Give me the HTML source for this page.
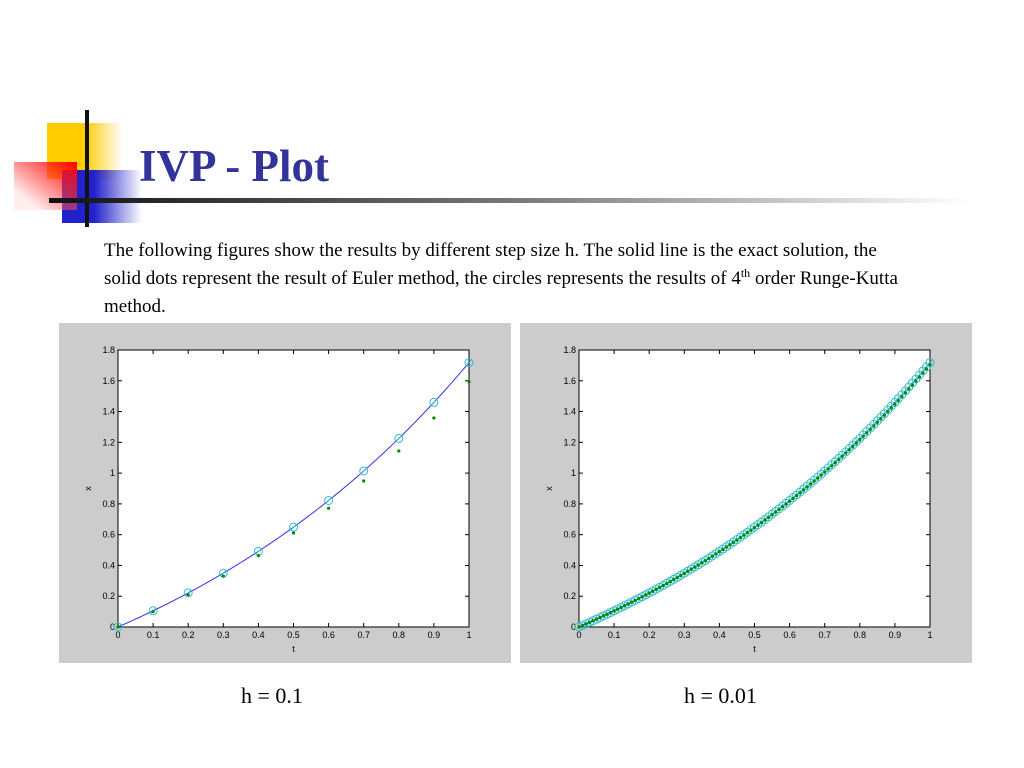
<!DOCTYPE html>
<html><head><meta charset="utf-8"><style>
body{margin:0;width:1024px;height:768px;background:#fff;position:relative;overflow:hidden;font-family:"Liberation Serif",serif}
.abs{position:absolute}
sup{line-height:0;vertical-align:0;position:relative;top:-7px;font-size:12px}
</style></head><body>
<div class="abs" style="left:47px;top:123px;width:75px;height:56px;background:linear-gradient(to right,#ffcc00 50%,rgba(255,204,0,0))"></div>
<div class="abs" style="left:62px;top:170px;width:80px;height:53px;background:linear-gradient(to right,#2222cc 40%,rgba(34,34,204,0))"></div>
<div class="abs" style="left:14px;top:162px;width:63px;height:48px;background:linear-gradient(to bottom left,#ff0000,rgba(255,200,200,0.3) 80%)"></div>
<div class="abs" style="left:85px;top:110px;width:4px;height:117px;background:#111"></div>
<div class="abs" style="left:49px;top:198px;width:920px;height:5px;background:linear-gradient(to right,#111,#777 50%,#fff)"></div>
<div class="abs" style="left:139px;top:140px;font-size:45px;font-weight:bold;color:#333399">IVP - Plot</div>
<div class="abs" style="left:104px;top:237px;width:800px;font-size:19px;line-height:28px;color:#000">The following figures show the results by different step size h. The solid line is the exact solution, the solid dots represent the result of Euler method, the circles represents the results of 4<sup>th</sup> order Runge-Kutta method.</div>
<svg class="abs" style="left:0;top:0" width="1024" height="768" id="svg"></svg>
<div class="abs" style="left:241px;top:683px;font-size:22px">h = 0.1</div>
<div class="abs" style="left:684px;top:683px;font-size:22px">h = 0.01</div>
<script>
const exactX=[0,0.0100,0.0202,0.0305,0.0408,0.0513,0.0618,0.0725,0.0833,0.0942,0.1052,0.1163,0.1275,0.1388,0.1503,0.1618,0.1735,0.1853,0.1972,0.2092,0.2214,0.2337,0.2461,0.2586,0.2712,0.2840,0.2969,0.3100,0.3231,0.3364,0.3499,0.3634,0.3771,0.3910,0.4049,0.4191,0.4333,0.4477,0.4623,0.4770,0.4918,0.5068,0.5220,0.5373,0.5527,0.5683,0.5841,0.6000,0.6161,0.6323,0.6487,0.6653,0.6820,0.6989,0.7160,0.7333,0.7507,0.7683,0.7860,0.8040,0.8221,0.8404,0.8589,0.8776,0.8965,0.9155,0.9348,0.9542,0.9739,0.9937,1.0138,1.0340,1.0544,1.0751,1.0959,1.1170,1.1383,1.1598,1.1815,1.2034,1.2255,1.2479,1.2705,1.2933,1.3164,1.3396,1.3632,1.3869,1.4109,1.4351,1.4596,1.4843,1.5093,1.5345,1.5600,1.5857,1.6117,1.6379,1.6645,1.6912,1.7183];
const eulerCoarse=[0,0.1,0.21,0.331,0.464,0.611,0.772,0.949,1.144,1.358,1.594];
const rkCoarse=[0,0.1052,0.2214,0.3499,0.4918,0.6487,0.8221,1.0138,1.2255,1.4596,1.7183];
const eulerFine=[0,0.0100,0.0201,0.0303,0.0406,0.0510,0.0615,0.0721,0.0829,0.0937,0.1046,0.1157,0.1268,0.1381,0.1495,0.1610,0.1726,0.1843,0.1962,0.2081,0.2202,0.2324,0.2447,0.2572,0.2697,0.2824,0.2952,0.3082,0.3212,0.3344,0.3478,0.3613,0.3749,0.3887,0.4025,0.4166,0.4307,0.4450,0.4595,0.4741,0.4889,0.5037,0.5188,0.5340,0.5493,0.5648,0.5805,0.5963,0.6123,0.6284,0.6446,0.6611,0.6777,0.6945,0.7114,0.7286,0.7458,0.7633,0.7809,0.7987,0.8166,0.8348,0.8531,0.8716,0.8903,0.9092,0.9283,0.9475,0.9670,0.9866,1.0066,1.0268,1.0470,1.0675,1.0881,1.1091,1.1302,1.1515,1.1730,1.1947,1.2166,1.2388,1.2612,1.2838,1.3067,1.3297,1.3531,1.3765,1.4003,1.4243,1.4485,1.4730,1.4978,1.5227,1.5480,1.5734,1.5992,1.6251,1.6515,1.6779,1.7048];
const rkFine=exactX.slice();
const xTicks=["0","0.1","0.2","0.3","0.4","0.5","0.6","0.7","0.8","0.9","1"];
const yTicks=["0","0.2","0.4","0.6","0.8","1","1.2","1.4","1.6","1.8"];
const NS="http://www.w3.org/2000/svg";
const svg=document.getElementById('svg');
function mk(tag,attrs,parent){const e=document.createElementNS(NS,tag);for(const k in attrs)e.setAttribute(k,attrs[k]);(parent||svg).appendChild(e);return e;}
function chart(px,name,euler,rk,step){
  const g=mk('g',{});
  
  
  const bg=mk('rect',{x:px,y:323,width:452,height:340,fill:'#cccccc'},g);
  
  
  const L=px+59,R=px+410,T=350,B=627;
  const sx=t=>L+(R-L)*t, sy=v=>B-(B-T)*v/1.8;
  const pa=mk('rect',{x:L,y:T,width:R-L,height:B-T,fill:'#fff',stroke:'#000','stroke-width':1},g);
  
  
  xTicks.forEach((s,i)=>{const t=+s,x=sx(t);
    mk('line',{x1:x,y1:B,x2:x,y2:B-4,stroke:'#000'},g);mk('line',{x1:x,y1:T,x2:x,y2:T+4,stroke:'#000'},g);
    const tx=mk('text',{x:x,y:B+11,'font-size':9,'text-anchor':'middle','font-family':'Liberation Sans, sans-serif'},g);tx.textContent=s;
    
    });
  yTicks.forEach(s=>{const v=+s,y=sy(v);
    mk('line',{x1:L,y1:y,x2:L+4,y2:y,stroke:'#000'},g);mk('line',{x1:R,y1:y,x2:R-4,y2:y,stroke:'#000'},g);
    const tx=mk('text',{x:L-3,y:y+3,'font-size':9,'text-anchor':'end','font-family':'Liberation Sans, sans-serif'},g);tx.textContent=s;
    
    });
  const xl=mk('text',{x:(L+R)/2,y:B+25,'font-size':9,'text-anchor':'middle','font-family':'Liberation Sans, sans-serif'},g);xl.textContent='t';
  
  
  const yl=mk('text',{x:0,y:0,'font-size':9,'text-anchor':'middle','font-family':'Liberation Sans, sans-serif',transform:`translate(${L-27},${(T+B)/2}) rotate(-90)`},g);yl.textContent='x';
  
  
  const pts=exactX.map((v,i)=>sx(i/100)+','+sy(v)).join(' ');
  const ln=mk('polyline',{points:pts,fill:'none',stroke:'#3333ee','stroke-width':1},g);
  
  
  rk.forEach((v,i)=>{const cx=sx(i*step),cy=sy(v);
    const c=mk('circle',{cx:cx,cy:cy,r:4,fill:'none',stroke:'#33bbcc','stroke-width':1},g);
    
    
    mk('line',{x1:cx-2.5,y1:cy+2.5,x2:cx+2.5,y2:cy-2.5,stroke:'#33bbcc','stroke-width':0.8},g);});
  euler.forEach((v,i)=>{const d=mk('circle',{cx:sx(i*step),cy:sy(v),r:1.6,fill:'#008800'},g);
    
    });
}
chart(59,'chart-h-0.1',eulerCoarse,rkCoarse,0.1);
chart(520,'chart-h-0.01',eulerFine,rkFine,0.01);
</script>
</body></html>
